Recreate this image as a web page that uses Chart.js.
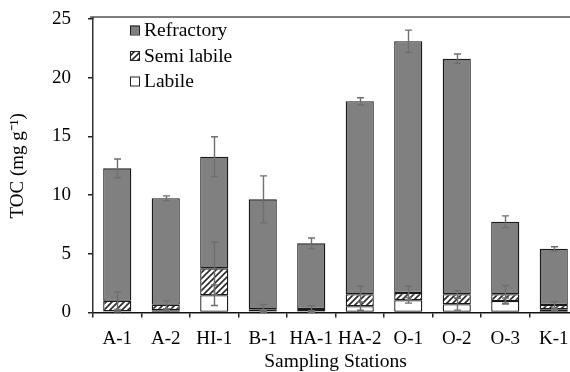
<!DOCTYPE html>
<html><head><meta charset="utf-8">
<script src="https://cdn.jsdelivr.net/npm/chart.js@4.4.0/dist/chart.umd.min.js"></script>
<style>html,body{margin:0;padding:0;overflow:hidden;background:#fff;width:570px;height:372px}
#wrap{width:600px;height:372px}</style></head>
<body><div id="wrap"><canvas id="c" width="600" height="372"></canvas></div>
<script>
const stations = ['A-1','A-2','HI-1','B-1','HA-1','HA-2','O-1','O-2','O-3','K-1'];
const labile = [0.10, 0.20, 1.47, 0.10, 0.10, 0.53, 1.04, 0.70, 0.98, 0.27];
const semiLabile = [0.90, 0.46, 2.29, 0.18, 0.20, 1.02, 0.62, 0.85, 0.57, 0.37];
const refractory = [11.28, 9.07, 9.51, 9.36, 5.59, 16.44, 21.44, 20.07, 6.18, 4.79];
const labileErr = [0.05, 0.10, 0.87, 0.05, 0.05, 0.34, 0.24, 0.50, 0.26, 0.10];
const semiErr = [0.75, 0.35, 2.25, 0.40, 0.28, 0.68, 0.57, 0.30, 0.75, 0.28];
const refractoryErr = [0.80, 0.20, 1.70, 2.00, 0.45, 0.30, 0.95, 0.40, 0.50, 0.17];
const yTicks = [0, 5, 10, 15, 20, 25];

const FONT = "'Liberation Serif', 'Times New Roman', serif";

function hatchPattern(){
  const s = 6, c = document.createElement('canvas');
  c.width = s; c.height = s;
  const g = c.getContext('2d');
  g.fillStyle = '#fff'; g.fillRect(0,0,s,s);
  g.strokeStyle = '#2a2a2a'; g.lineWidth = 1.6;
  g.beginPath();
  g.moveTo(0,s); g.lineTo(s,0);
  g.moveTo(-s/2,s/2); g.lineTo(s/2,-s/2);
  g.moveTo(s/2,s*1.5); g.lineTo(s*1.5,s/2);
  g.stroke();
  return g.createPattern(c,'repeat');
}
const hatch = hatchPattern();

const errPlugin = {
  id: 'errbars',
  afterDatasetsDraw(chart){
    const ctx = chart.ctx, ys = chart.scales.y;
    const errs = [labileErr, semiErr, refractoryErr];
    ctx.save();
    ctx.strokeStyle = '#6e6e6e'; ctx.lineWidth = 1.4;
    chart.data.datasets.forEach((ds, d) => {
      const meta = chart.getDatasetMeta(d);
      meta.data.forEach((bar, i) => {
        let cum = 0;
        for (let k = 0; k <= d; k++) cum += chart.data.datasets[k].data[i];
        const e = errs[d][i];
        const x = Math.round(bar.x) + 0.5;
        const y1 = ys.getPixelForValue(cum + e);
        const y2 = ys.getPixelForValue(Math.max(0, cum - e));
        ctx.beginPath();
        ctx.moveTo(x, y1); ctx.lineTo(x, y2);
        ctx.moveTo(x-3.5, y1); ctx.lineTo(x+3.5, y1);
        ctx.moveTo(x-3.5, y2); ctx.lineTo(x+3.5, y2);
        ctx.stroke();
      });
    });
    ctx.restore();
  }
};

const framePlugin = {
  id: 'frame',
  afterDraw(chart){
    const ctx = chart.ctx, a = chart.chartArea;
    ctx.save();
    ctx.strokeStyle = '#555'; ctx.lineWidth = 1.5;
    ctx.beginPath();
    ctx.moveTo(a.left - 3, a.top - 2); ctx.lineTo(a.right, a.top - 2);
    ctx.stroke();
    ctx.strokeStyle = '#333';
    ctx.beginPath();
    ctx.moveTo(a.left, a.top - 2); ctx.lineTo(a.left, a.top);
    ctx.stroke();
    // legend
    const items = chart.data.datasets.slice().reverse();
    ctx.font = '19.5px ' + FONT;
    ctx.textBaseline = 'middle';
    items.forEach((ds, j) => {
      const cy = a.top + 11 + j * 25.5;
      const bx = a.left + 37;
      ctx.fillStyle = ds.backgroundColor;
      ctx.fillRect(bx, cy - 4.5, 9, 9);
      ctx.strokeStyle = '#222'; ctx.lineWidth = 1;
      ctx.strokeRect(bx + 0.5, cy - 4.5 + 0.5, 9, 9);
      ctx.fillStyle = '#000';
      ctx.fillText(ds.label, a.left + 51, cy + 1);
    });
    ctx.restore();
  }
};

new Chart(document.getElementById('c'), {
  type: 'bar',
  data: {
    labels: stations,
    datasets: [
      { label: 'Labile', data: labile, backgroundColor: '#ffffff' },
      { label: 'Semi labile', data: semiLabile, backgroundColor: hatch },
      { label: 'Refractory', data: refractory, backgroundColor: '#808080' }
    ].map(d => Object.assign(d, {
      borderColor: '#1a1a1a', borderWidth: 1.3, borderSkipped: false,
      categoryPercentage: 1.0, barPercentage: 0.58
    }))
  },
  options: {
    responsive: false,
    animation: false,
    layout: { padding: { left: 0, right: 22, top: 19, bottom: 0 } },
    plugins: { legend: { display: false }, tooltip: { enabled: false } },
    scales: {
      x: {
        stacked: true,
        offset: true,
        grid: { display: true, drawOnChartArea: false, offset: true, tickLength: 5, color: '#222', lineWidth: 1.5 },
        border: { display: true, color: '#111', width: 1.5 },
        ticks: { font: { family: FONT, size: 19 }, color: '#000', padding: 10, maxRotation: 0, autoSkip: false },
        title: { display: true, text: 'Sampling Stations', font: { family: FONT, size: 19.5, lineHeight: 1 }, color: '#000', padding: { top: 0, bottom: 0 } },
        afterFit(s){ s.height = 59.5; }
      },
      y: {
        stacked: true,
        min: 0, max: 25,
        afterBuildTicks(s){ s.ticks = yTicks.map(v => ({ value: v })); },
        grid: { display: true, drawOnChartArea: false, tickLength: 5, color: '#222', lineWidth: 1.5 },
        border: { display: true, color: '#333', width: 1.5 },
        ticks: { font: { family: FONT, size: 19 }, color: '#000', padding: 17 },
        title: { display: true, text: 'TOC (mg g\u207B\u00B9)', font: { family: FONT, size: 19, lineHeight: 1 }, color: '#000', padding: { top: 9, bottom: 0 } },
        afterFit(s){ s.width = 93; s.paddingTop = 0; s.paddingBottom = 0; }
      }
    }
  },
  plugins: [errPlugin, framePlugin]
});
</script>
</body></html>
